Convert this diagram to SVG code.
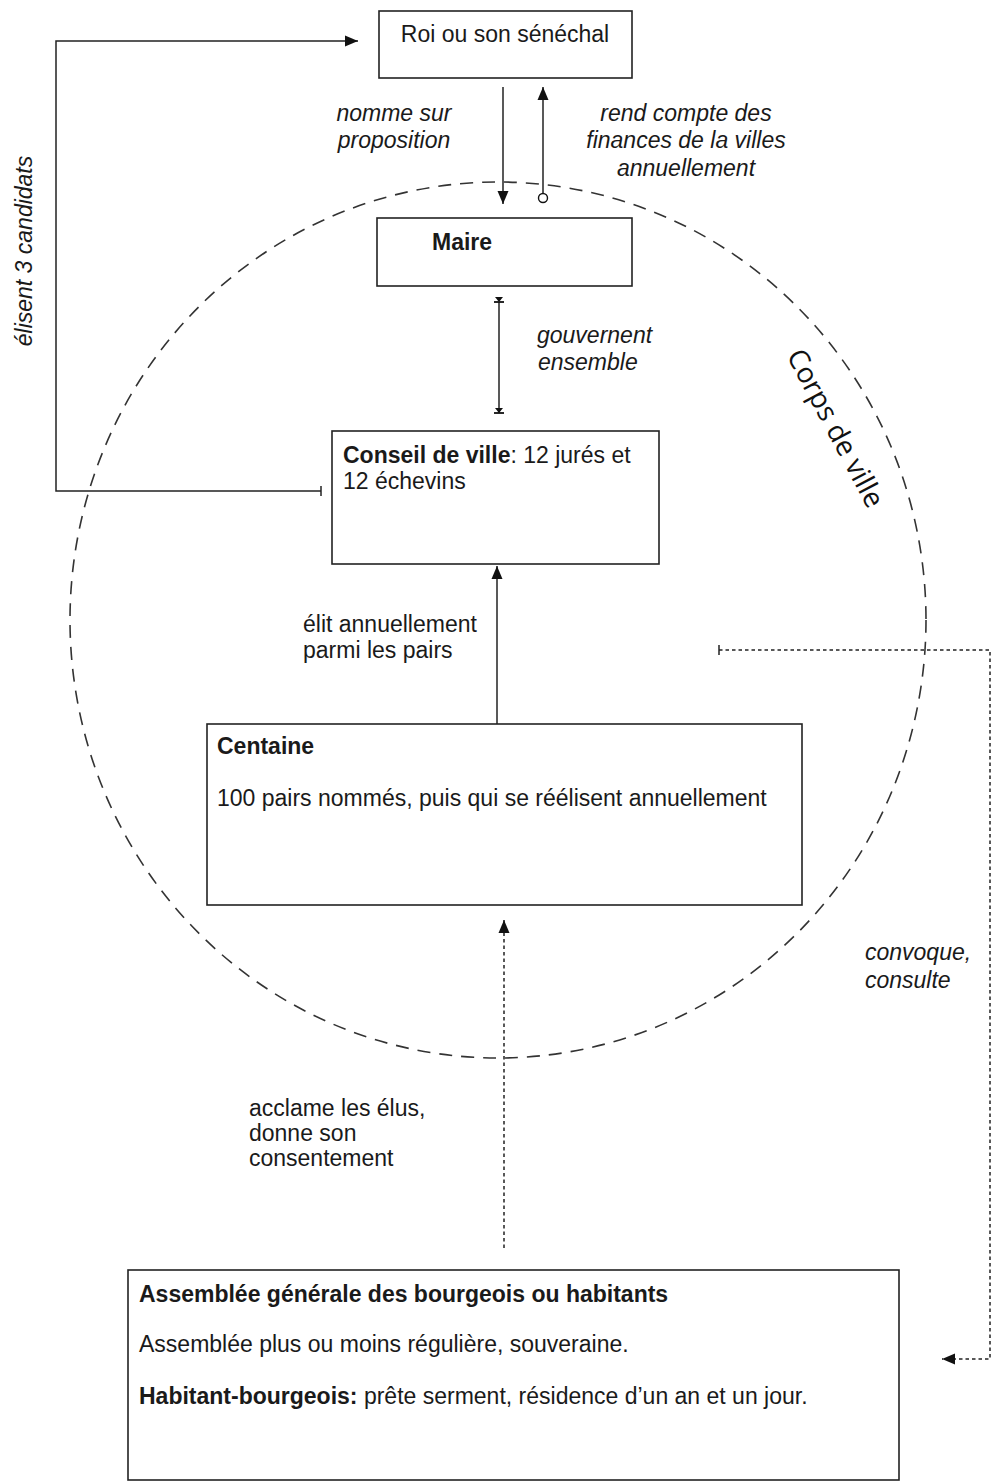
<svg xmlns="http://www.w3.org/2000/svg" width="992" height="1483" viewBox="0 0 992 1483">
<defs>
<style>
.box{fill:#fff;stroke:#222;stroke-width:1.6}
.t{font-family:"Liberation Sans",Arial,sans-serif;font-size:23px;fill:#1a1a1a}
.b{font-weight:bold}
.i{font-style:italic}
.c{stroke:#222;stroke-width:1.5;fill:none}
.dot{stroke:#222;stroke-width:1.5;fill:none;stroke-dasharray:3.5 3}
.ring{stroke:#333;stroke-width:1.6;fill:none;stroke-dasharray:13 9}
</style>
<marker id="arr" markerUnits="userSpaceOnUse" markerWidth="14" markerHeight="12" refX="13" refY="6" orient="auto">
<path d="M0,0.5 L13,6 L0,11.5 z" fill="#111"/>
</marker>
<marker id="tee" markerUnits="userSpaceOnUse" markerWidth="4" markerHeight="12" refX="2" refY="6" orient="auto">
<line x1="2" y1="1" x2="2" y2="11" stroke="#222" stroke-width="1.5"/>
</marker>
<marker id="circ" markerUnits="userSpaceOnUse" markerWidth="12" markerHeight="12" refX="6" refY="6" orient="auto">
<circle cx="6" cy="6" r="4.5" fill="#fff" stroke="#111" stroke-width="1.4"/>
</marker>
<marker id="bar" markerUnits="userSpaceOnUse" markerWidth="9" markerHeight="12" refX="7" refY="6" orient="auto">
<path d="M2,2 L7,6 L2,10 z" fill="#111"/>
<line x1="7" y1="1" x2="7" y2="11" stroke="#111" stroke-width="1.8"/>
</marker>
</defs>
<rect width="992" height="1483" fill="#fff"/>

<g id="corps-de-ville">
<ellipse class="ring" cx="498" cy="620" rx="428" ry="438"/>
<text class="t" transform="translate(836,428) rotate(62)" x="0" y="10" text-anchor="middle" style="font-family:'Open Sans','Liberation Sans',sans-serif;font-size:28px;fill:#111">Corps de ville</text>
</g>

<g id="connectors">
<path class="c" d="M503,87 V204" marker-end="url(#arr)"/>
<path class="c" d="M543,198 V87" marker-start="url(#circ)" marker-end="url(#arr)"/>
<path class="c" d="M499,302 V413" marker-start="url(#bar)" marker-end="url(#bar)"/>
<path class="c" d="M321,491 H56 V41 H358" marker-start="url(#tee)" marker-end="url(#arr)"/>
<path class="c" d="M497,724 V566" marker-end="url(#arr)"/>
<path class="dot" d="M504,1248 V920" marker-end="url(#arr)"/>
<path class="dot" d="M719,650 H990 V1359 H942" marker-start="url(#tee)" marker-end="url(#arr)"/>
<text class="t i" x="394" y="121" text-anchor="middle">nomme  sur</text>
<text class="t i" x="394" y="148" text-anchor="middle">proposition</text>
<text class="t i" x="686" y="121" text-anchor="middle">rend compte des</text>
<text class="t i" x="686" y="148" text-anchor="middle">finances de la villes</text>
<text class="t i" x="686" y="176" text-anchor="middle">annuellement</text>
<text class="t i" x="537" y="343">gouvernent</text>
<text class="t i" x="538" y="370">ensemble</text>
<text class="t i" transform="translate(32,251) rotate(-90)" text-anchor="middle">élisent 3  candidats</text>
<text class="t" x="303" y="632">élit annuellement</text>
<text class="t" x="303" y="658">parmi les pairs</text>
<text class="t" x="249" y="1116">acclame les élus,</text>
<text class="t" x="249" y="1141">donne son</text>
<text class="t" x="249" y="1166">consentement</text>
<text class="t i" x="865" y="960">convoque,</text>
<text class="t i" x="865" y="988">consulte</text>
</g>

<g id="roi">
<rect class="box" x="379" y="11" width="253" height="67"/>
<text class="t" x="505" y="42" text-anchor="middle">Roi ou son sénéchal</text>
</g>

<g id="maire">
<rect class="box" x="377" y="218" width="255" height="68"/>
<text class="t b" x="432" y="250">Maire</text>
</g>

<g id="conseil">
<rect class="box" x="332" y="431" width="327" height="133"/>
<text class="t" x="343" y="463"><tspan class="b">Conseil de ville</tspan>: 12 jurés et</text>
<text class="t" x="343" y="489">12 échevins</text>
</g>

<g id="centaine">
<rect class="box" x="207" y="724" width="595" height="181"/>
<text class="t b" x="217" y="754">Centaine</text>
<text class="t" x="217" y="806">100 pairs nommés, puis qui se réélisent annuellement</text>
</g>

<g id="assemblee">
<rect class="box" x="128" y="1270" width="771" height="210"/>
<text class="t b" x="139" y="1302">Assemblée générale des bourgeois ou habitants</text>
<text class="t" x="139" y="1352">Assemblée plus ou moins régulière, souveraine.</text>
<text class="t" x="139" y="1404"><tspan class="b">Habitant-bourgeois:</tspan> prête serment, résidence d’un an et un jour.</text>
</g>
</svg>
